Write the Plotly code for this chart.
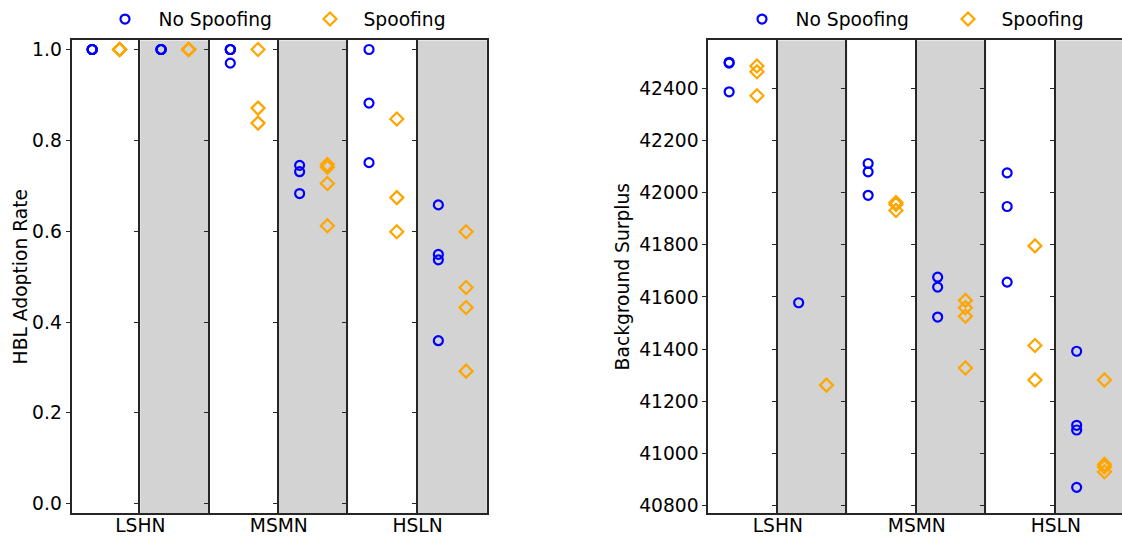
import plotly.graph_objects as go

# ---------------- data ----------------
groups = ["LSHN", "MSMN", "HSLN"]
series_names = ["No Spoofing", "Spoofing"]
# six columns: for each group a white column followed by a shaded column
column_shaded = [False, True, False, True, False, True]

adoption_no_spoofing = [
    [1.0, 1.0, 1.0, 1.0],
    [1.0, 1.0, 1.0, 1.0],
    [1.0, 1.0, 0.97, 1.0],
    [0.745, 0.731, 0.683],
    [1.0, 0.882, 0.751],
    [0.658, 0.549, 0.537, 0.359],
]
adoption_spoofing = [
    [1.0, 1.0, 1.0, 1.0],
    [1.0, 1.0, 1.0, 1.0],
    [1.0, 0.871, 0.838],
    [0.747, 0.741, 0.705, 0.612],
    [0.847, 0.674, 0.599],
    [0.599, 0.476, 0.432, 0.292],
]
surplus_no_spoofing = [
    [42500, 42497, 42387],
    [41578],
    [42112, 42080, 41990],
    [41676, 41638, 41523],
    [42076, 41947, 41657],
    [41392, 41108, 41090, 40870],
]
surplus_spoofing = [
    [42486, 42464, 42372],
    [41262],
    [41962, 41955, 41932],
    [41587, 41559, 41526, 41328],
    [41796, 41414, 41282],
    [41282, 40958, 40948, 40930],
]

adoption_ticks = [0.0, 0.2, 0.4, 0.6, 0.8, 1.0]
adoption_tick_text = ["0.0", "0.2", "0.4", "0.6", "0.8", "1.0"]
surplus_ticks = [40800, 41000, 41200, 41400, 41600, 41800, 42000, 42200, 42400]

# ---------------- layout / style ----------------
W, H = 1122, 538
FONT = "DejaVu Sans"
FS = 18.7
LINE = "#262626"
GRAY = "#d3d3d3"
COLORS = {"No Spoofing": "#0000ff", "Spoofing": "#ffa500"}
SYMBOLS = {"No Spoofing": "circle-open", "Spoofing": "diamond-open"}
SIZES = {"No Spoofing": 9, "Spoofing": 10}
OFFSETS = {"No Spoofing": 0.3, "Spoofing": 0.7}

panel_bounds = [
    [71.5, 140.3, 209.5, 278.8, 348.2, 417.6, 486.8],
    [708.3, 777.8, 847.3, 916.8, 986.3, 1055.8, 1125.3],
]
y_dom = [(H - 512.7) / H, (H - 36.7) / H]

# legend marker centres (px) for each panel / series
legend_marker_px = [
    {"No Spoofing": 125, "Spoofing": 330},
    {"No Spoofing": 762, "Spoofing": 968},
]
LEG_ITEMW = 57

panels = [
    dict(no=adoption_no_spoofing, sp=adoption_spoofing, rng=[-0.02, 1.02],
         ticks=adoption_ticks, ticktext=adoption_tick_text,
         title="HBL Adoption Rate", standoff=0),
    dict(no=surplus_no_spoofing, sp=surplus_spoofing, rng=[40772, 42584],
         ticks=surplus_ticks, ticktext=[str(v) for v in surplus_ticks],
         title="Background Surplus", standoff=5),
]

fig = go.Figure()
shapes = []
legends = {}
for p, panel in enumerate(panels):
    b = panel_bounds[p]
    for c in range(6):
        k = p * 6 + c + 1
        xa = "x" if k == 1 else f"x{k}"
        ya = "y" if k == 1 else f"y{k}"
        left, right = b[c], b[c + 1]
        vis_right = min(right, W)
        frac = (vis_right - left) / (right - left)
        for s, (name, vals) in enumerate((("No Spoofing", panel["no"][c]),
                                          ("Spoofing", panel["sp"][c]))):
            lid = "legend" if p * 2 + s == 0 else f"legend{p * 2 + s + 1}"
            fig.add_trace(go.Scatter(
                x=[OFFSETS[name]] * len(vals), y=vals, mode="markers", name=name,
                marker=dict(symbol=SYMBOLS[name], size=SIZES[name], color=COLORS[name],
                            line=dict(width=2.2, color=COLORS[name])),
                xaxis=xa, yaxis=ya, legend=lid,
                showlegend=(c == 0), hoverinfo="y",
            ))
            if c == 0:
                legends[lid] = dict(
                    orientation="h", yanchor="middle", y=(H - 15.5) / H, xanchor="left",
                    x=(legend_marker_px[p][name] - LEG_ITEMW / 2 - 5) / W,
                    font=dict(family=FONT, size=FS, color="black"),
                    bgcolor="rgba(0,0,0,0)", itemwidth=LEG_ITEMW,
                    itemclick=False, itemdoubleclick=False)
        gi = c // 2
        xaxis = dict(domain=[left / W, vis_right / W], range=[0, frac],
                     showgrid=False, zeroline=False, showline=True, mirror=True,
                     linecolor=LINE, linewidth=1.9, ticks="", ticklen=0,
                     ticklabelstandoff=-5,
                     tickvals=[0] if column_shaded[c] else [],
                     ticktext=[groups[gi]] if column_shaded[c] else [],
                     tickfont=dict(family=FONT, size=FS, color="black"),
                     anchor=ya, fixedrange=True)
        # right spine only where no neighbouring column draws the line
        last_visible = (c == 5 and right <= W)
        yaxis = dict(domain=y_dom, range=panel["rng"], showgrid=False, zeroline=False,
                     showline=True, mirror=last_visible, linecolor=LINE, linewidth=1.9,
                     ticks="outside", ticklen=4, tickwidth=1.2, tickcolor=LINE,
                     tickvals=panel["ticks"], ticktext=panel["ticktext"],
                     showticklabels=(c == 0),
                     tickfont=dict(family=FONT, size=FS, color="black"),
                     anchor=xa, fixedrange=True)
        if c == 0:
            yaxis["title"] = dict(text=panel["title"], standoff=panel["standoff"],
                                  font=dict(family=FONT, size=FS, color="black"))
        fig.layout["xaxis" if k == 1 else f"xaxis{k}"] = xaxis
        fig.layout["yaxis" if k == 1 else f"yaxis{k}"] = yaxis
        if column_shaded[c]:
            shapes.append(dict(type="rect", xref=f"{xa} domain", yref=f"{ya} domain",
                               x0=0, x1=1, y0=0, y1=1, fillcolor=GRAY,
                               line=dict(width=0), layer="below"))

fig.update_layout(
    width=W, height=H, template="none",
    margin=dict(l=0, r=0, t=0, b=0, pad=0),
    paper_bgcolor="white", plot_bgcolor="white",
    font=dict(family=FONT, size=FS, color="black"),
    shapes=shapes,
    **legends,
)

fig.write_html("out.html")
